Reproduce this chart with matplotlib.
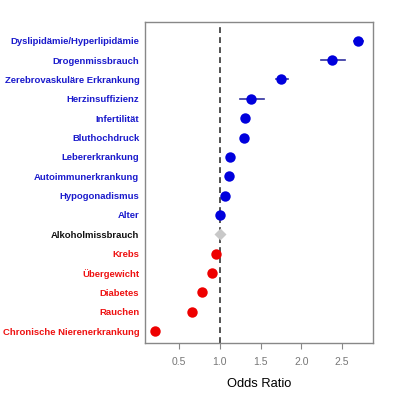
import numpy as np
import matplotlib.pyplot as plt

plt.rcParams['font.family'] = ['Liberation Sans', 'DejaVu Sans']

# data, top to bottom
labels = ['Dyslipidämie/Hyperlipidämie', 'Drogenmissbrauch', 'Zerebrovaskuläre Erkrankung',
          'Herzinsuffizienz', 'Infertilität', 'Bluthochdruck', 'Lebererkrankung',
          'Autoimmunerkrankung', 'Hypogonadismus', 'Alter', 'Alkoholmissbrauch',
          'Krebs', 'Übergewicht', 'Diabetes', 'Rauchen', 'Chronische Nierenerkrankung']
odds = [2.69, 2.38, 1.75, 1.38, 1.31, 1.30, 1.12, 1.11, 1.06, 1.00, 1.00,
        0.955, 0.905, 0.78, 0.66, 0.21]
ci_low = [2.65, 2.24, 1.69, 1.25, 1.31, 1.30, 1.12, 1.11, 1.06, 1.00, 1.00,
          0.955, 0.905, 0.78, 0.66, 0.21]
ci_high = [2.76, 2.54, 1.84, 1.54, 1.31, 1.30, 1.12, 1.11, 1.06, 1.00, 1.00,
           0.955, 0.905, 0.78, 0.66, 0.21]
group = ['up'] * 10 + ['ns'] + ['down'] * 5
ticks = [0.5, 1.0, 1.5, 2.0, 2.5]

col = {'up': '#0000dd', 'ns': '#c8c8c8', 'down': '#ee0000'}
lab_col = {'up': '#1a1acc', 'ns': '#111111', 'down': '#ee1111'}

fig = plt.figure(figsize=(3.97, 3.97), dpi=100)
ax = fig.add_axes([0.365, 0.136, 0.575, 0.809])

n = len(labels)
y = np.arange(n)[::-1]

ax.axvline(1.0, color='#333333', ls='--', lw=1.2, dashes=(3.5, 2.5), zorder=1)

for i in range(n):
    c = col[group[i]]
    ax.plot([ci_low[i], ci_high[i]], [y[i], y[i]], color='#3030a0', lw=1.2, zorder=2)
    m = 'D' if group[i] == 'ns' else 'o'
    ms = 6 if group[i] == 'ns' else 7.5
    ax.plot(odds[i], y[i], marker=m, color=c, ms=ms, mec='none', zorder=3)

ax.set_xlim(0.083, 2.88)
ax.set_ylim(-0.62, n - 0.02)
ax.set_yticks(y)
ax.set_yticklabels(labels, fontsize=6.8, fontweight='bold')
for t, g in zip(ax.get_yticklabels(), group):
    t.set_color(lab_col[g])
ax.tick_params(axis='y', length=0, pad=4)
ax.set_xticks(ticks)
ax.set_xticklabels([str(t) for t in ticks], fontsize=7.5, color='#777777')
ax.tick_params(axis='x', length=4, color='#888888', pad=6)

for s in ax.spines.values():
    s.set_color('#888888')
    s.set_linewidth(1.0)

ax.set_xlabel('Odds Ratio', fontsize=9.3, labelpad=8)

fig.savefig('out.png', dpi=100)
